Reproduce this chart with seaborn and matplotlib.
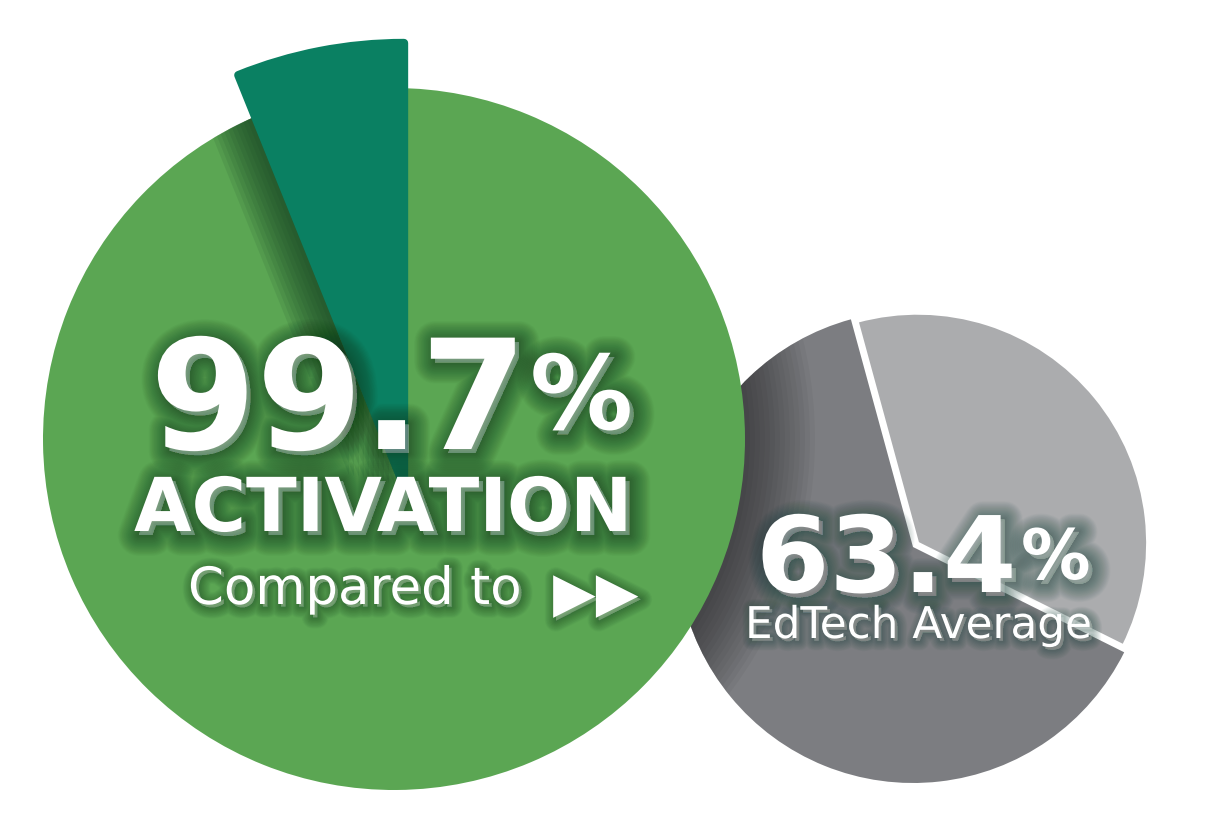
import matplotlib
matplotlib.use("Agg")
import matplotlib.pyplot as plt
import matplotlib.patheffects as pe
from matplotlib.patches import Circle
import seaborn as sns

sns.set_theme(style="white")
plt.rcParams['font.family'] = ['DejaVu Sans']

# data
activation_labels = ["Activated", "Not activated"]
activation_values = [99.7, 0.3]
accent_share = [6.1, 93.9]          # dark accent wedge, share of a full turn
edtech_labels = ["Other", "EdTech Average"]
edtech_values = [36.6, 63.4]

W, H = 1214, 829
fig = plt.figure(figsize=(W / 100, H / 100), dpi=100)
ax = fig.add_axes([0, 0, 1, 1])

greens = sns.color_palette(["#5BA653", "#0A8062"])
grays = sns.color_palette(["#ABACAE", "#7C7D81"])

# gray pie (EdTech average)
gray_center = (913, H - 548)
g_wedges, _ = ax.pie(edtech_values, colors=grays, startangle=-26.5, radius=236,
                     center=gray_center, explode=[6, 0],
                     wedgeprops=dict(linewidth=0, zorder=1))
g_wedges[0].set_radius(230)
g_wedges[0].set_edgecolor("white")
g_wedges[0].set_linewidth(2.2)
g_wedges[0].set_zorder(2)

# soft shadow of the green circle on the gray pie
green_center = (394, H - 440)
green_r = 351
for k in range(1, 15):
    ring = Circle(green_center, green_r + k * 5, color="black", alpha=0.035, lw=0, zorder=1.5)
    ax.add_patch(ring)
    ring.set_clip_path(g_wedges[1])

# green pie (activation)
a_wedges, _ = ax.pie(activation_values, colors=greens, startangle=90, counterclock=False,
                     radius=green_r, center=green_center,
                     wedgeprops=dict(linewidth=0, zorder=3))
green_clip = Circle(green_center, green_r, transform=ax.transData)

# accent wedge and its shadow
apex = (404, H - 487)
for k in range(1, 12):
    sw, _ = ax.pie(accent_share, colors=["#103a20", "none"], startangle=90, radius=440,
                   center=(apex[0] - k * 5, apex[1] + k * 1),
                   wedgeprops=dict(linewidth=0, alpha=0.1, zorder=4))
    for w in sw:
        w.set_clip_on(True)
        w.set_clip_path(green_clip)
    sw[1].set_visible(False)

acc, _ = ax.pie(accent_share, colors=[greens[1], "none"], startangle=90, radius=443,
                center=apex,
                wedgeprops=dict(linewidth=6, edgecolor=greens[1], joinstyle="round", zorder=5))
acc[1].set_visible(False)


def glow(color, maxw=30, step=1, alpha=0.02, offset=(3, -3)):
    fx = [pe.Stroke(linewidth=w, foreground=color, alpha=alpha, offset=offset)
          for w in range(maxw, 0, -step)]
    return fx + [pe.Normal()]


gfx = glow("#143d20", alpha=0.024)
sfx = glow("#143d20", maxw=16, alpha=0.03, offset=(2, -2))
ax.text(150, H - 450, "99.7", fontsize=110, fontweight="bold", color="white",
        ha="left", va="baseline", zorder=10, path_effects=gfx)
ax.text(530, H - 430, "%", fontsize=74, fontweight="bold", color="white",
        ha="left", va="baseline", zorder=10, path_effects=gfx)
ax.text(134, H - 532, "ACTIVATION", fontsize=53.5, fontweight="bold", color="white",
        ha="left", va="baseline", zorder=10, path_effects=gfx)
ax.text(188, H - 605, "Compared to", fontsize=37, color="white",
        ha="left", va="baseline", zorder=10, path_effects=sfx)
ax.text(553, H - 612, "\u25B6\u25B6", fontsize=40, color="white",
        ha="left", va="baseline", zorder=10, path_effects=sfx)

tfx = glow("#1b463c", maxw=26, alpha=0.024)
tsfx = glow("#1b463c", maxw=14, alpha=0.03, offset=(2, -2))
ax.text(756, H - 593, "63.4", fontsize=76, fontweight="bold", color="white",
        ha="left", va="baseline", zorder=10, path_effects=tfx)
ax.text(1021, H - 580, "%", fontsize=50, fontweight="bold", color="white",
        ha="left", va="baseline", zorder=10, path_effects=tfx)
ax.text(745, H - 639, "EdTech Average", fontsize=31.5, color="white",
        ha="left", va="baseline", zorder=10, path_effects=tsfx)

ax.set_xlim(0, W)
ax.set_ylim(0, H)
ax.set_aspect("equal")
ax.axis("off")
fig.savefig("out.png", dpi=100, facecolor="white")
